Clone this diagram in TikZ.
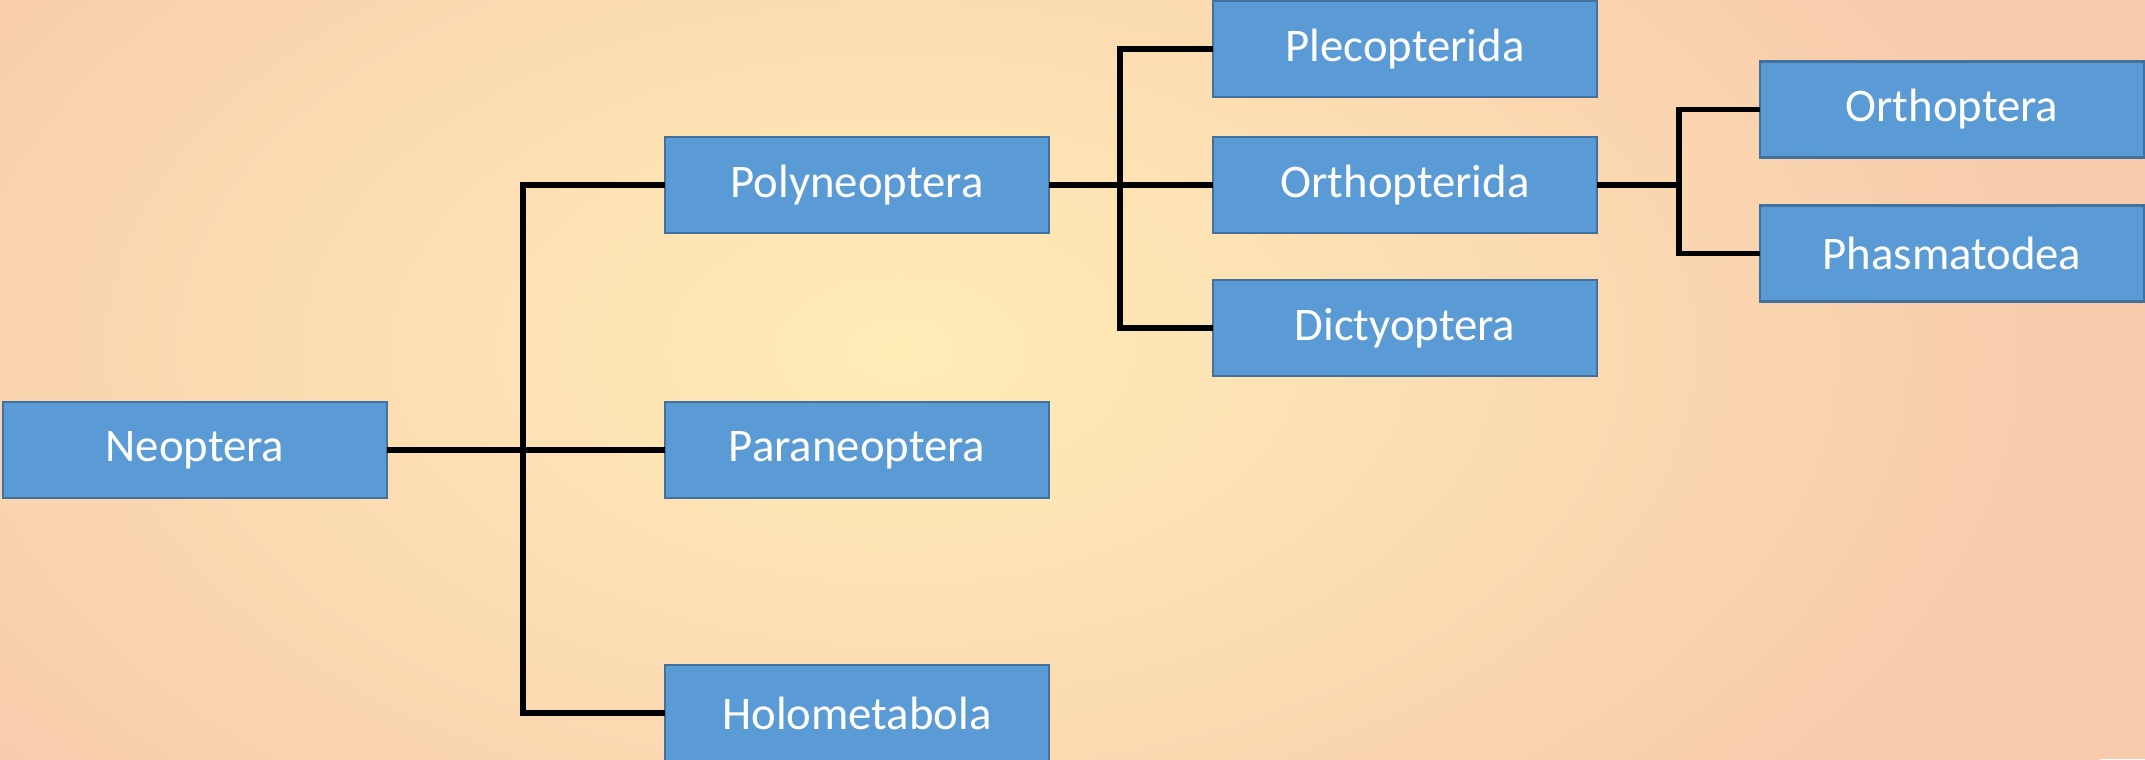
\documentclass[tikz,border=0pt]{standalone}
\usepackage{fontspec}
\setmainfont{Carlito}
\usepackage{xcolor}
\usetikzlibrary{positioning,calc}
\definecolor{bgin}{HTML}{FFEDB6}
\definecolor{bgout}{HTML}{F8CBAD}
\definecolor{boxfill}{HTML}{5B9BD5}
\definecolor{boxline}{HTML}{41719C}

\begin{document}
\begin{tikzpicture}[node distance=1.6cm,
  taxon/.style={draw=boxline,line width=0.8pt,fill=boxfill,text=white,minimum width=3.84cm,minimum height=0.96cm,inner sep=0pt,outer sep=0pt,font=\fontsize{13.3}{16}\selectfont},
  link/.style={line width=1.7pt}]
\useasboundingbox (0,0) rectangle (21.45,-7.59);
\fill[bgout] (0,0) rectangle (21.45,-7.59);
\shade[inner color=bgin,outer color=bgout] (-3,3.5) rectangle (21,-10.5);
\node[taxon] (neo) at (1.95,-4.50) {Neoptera};
\node[taxon,right=2.78cm of neo] (para) {Paraneoptera};
\node[taxon,above=1.69cm of para] (poly) {Polyneoptera};
\node[taxon,below=1.67cm of para] (holo) {Holometabola};
\node[taxon,right=1.64cm of poly] (orthd) {Orthopterida};
\node[taxon,above=0.40cm of orthd] (pleco) {Plecopterida};
\node[taxon,below=0.47cm of orthd] (dicty) {Dictyoptera};
\node[taxon,right=1.63cm of orthd,yshift=0.755cm] (ortho) {Orthoptera};
\node[taxon,below=0.48cm of ortho] (phasma) {Phasmatodea};
% brackets
\coordinate (j1) at ($(neo.east)!0.49!(para.west)$);
\draw[link] (neo.east) -- (para.west);
\draw[link] (poly.west) -| (j1) |- (holo.west);
\coordinate (j2) at ($(poly.east)!0.43!(orthd.west)$);
\draw[link] (poly.east) -- (orthd.west);
\draw[link] (pleco.west) -| (j2) |- (dicty.west);
\coordinate (j3) at ($(orthd.east)!0.5!(ortho.west |- orthd.east)$);
\draw[link] (orthd.east) -- (j3);
\draw[link] (ortho.west) -| (j3) |- (phasma.west);
\end{tikzpicture}
\end{document}
